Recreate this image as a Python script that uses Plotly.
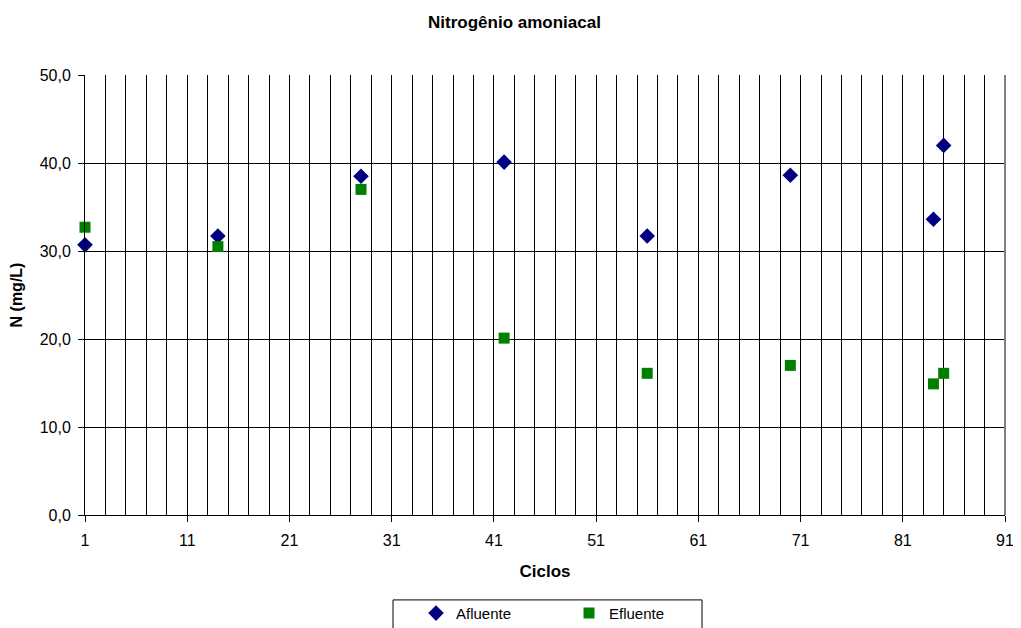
import plotly.graph_objects as go

# Ciclos de coleta e concentrações (mg/L)
ciclos = [1, 14, 28, 42, 56, 70, 84, 85]
afluente = [30.7, 31.7, 38.5, 40.1, 31.7, 38.6, 33.6, 42.0]
efluente = [32.7, 30.5, 37.0, 20.1, 16.1, 17.0, 14.9, 16.1]

fig = go.Figure()

fig.add_trace(go.Scatter(
    x=ciclos, y=afluente, mode='markers', name='Afluente',
    marker=dict(symbol='diamond', size=12, color='#000080'),
    cliponaxis=False
))
fig.add_trace(go.Scatter(
    x=ciclos, y=efluente, mode='markers', name='Efluente',
    marker=dict(symbol='square', size=11, color='#008000'),
    cliponaxis=False
))

font = 'Liberation Sans, Arial, sans-serif'

# a página tem 8px de margem no body; compensar
fig.update_layout(
    width=1013, height=620,
    margin=dict(l=77, r=16, t=67, b=113, autoexpand=False),
    paper_bgcolor='white', plot_bgcolor='white',
    separators=',.',
    font=dict(family=font, size=16, color='black'),
    title=dict(text='<b>Nitrogênio amoniacal</b>', x=0.5, xanchor='center',
               y=0.977, yanchor='middle', font=dict(size=17)),
    showlegend=True,
    legend=dict(orientation='h', x=0.3598, xanchor='left', y=-0.186, yanchor='top',
                borderwidth=0, bgcolor='rgba(0,0,0,0)',
                entrywidth=108, entrywidthmode='pixels', itemwidth=30,
                font=dict(size=15)),
    xaxis=dict(
        range=[1, 91], tick0=1, dtick=10, showgrid=True, gridcolor='black', gridwidth=1,
        minor=dict(tick0=1, dtick=2, showgrid=True, gridcolor='black', gridwidth=1),
        ticks='outside', ticklen=6, tickcolor='black', ticklabelstandoff=5,
        showline=True, linecolor='black', mirror=False, zeroline=False,
        title=dict(text='<b>Ciclos</b>', font=dict(size=17), standoff=16),
        tickfont=dict(size=16)
    ),
    yaxis=dict(
        range=[0, 50], dtick=10, tickformat='.1f', showgrid=True, gridcolor='black', gridwidth=1,
        ticks='outside', ticklen=6, tickcolor='black', ticklabelstandoff=4,
        showline=True, linecolor='black', zeroline=False,
        title=dict(text='<b>N (mg/L)</b>', font=dict(size=16), standoff=13),
        tickfont=dict(size=16)
    ),
)

# borda direita cinza da área de plotagem
fig.add_shape(type='line', xref='paper', yref='paper', x0=1, x1=1, y0=0, y1=1,
              line=dict(color='#808080', width=2))

# moldura da legenda
fig.add_shape(type='rect', xref='paper', yref='paper', x0=0.3348, x1=0.6707,
              y0=-0.26, y1=-0.193, line=dict(color='black', width=1),
              fillcolor='rgba(0,0,0,0)', layer='below')

fig.write_html('out.html')
